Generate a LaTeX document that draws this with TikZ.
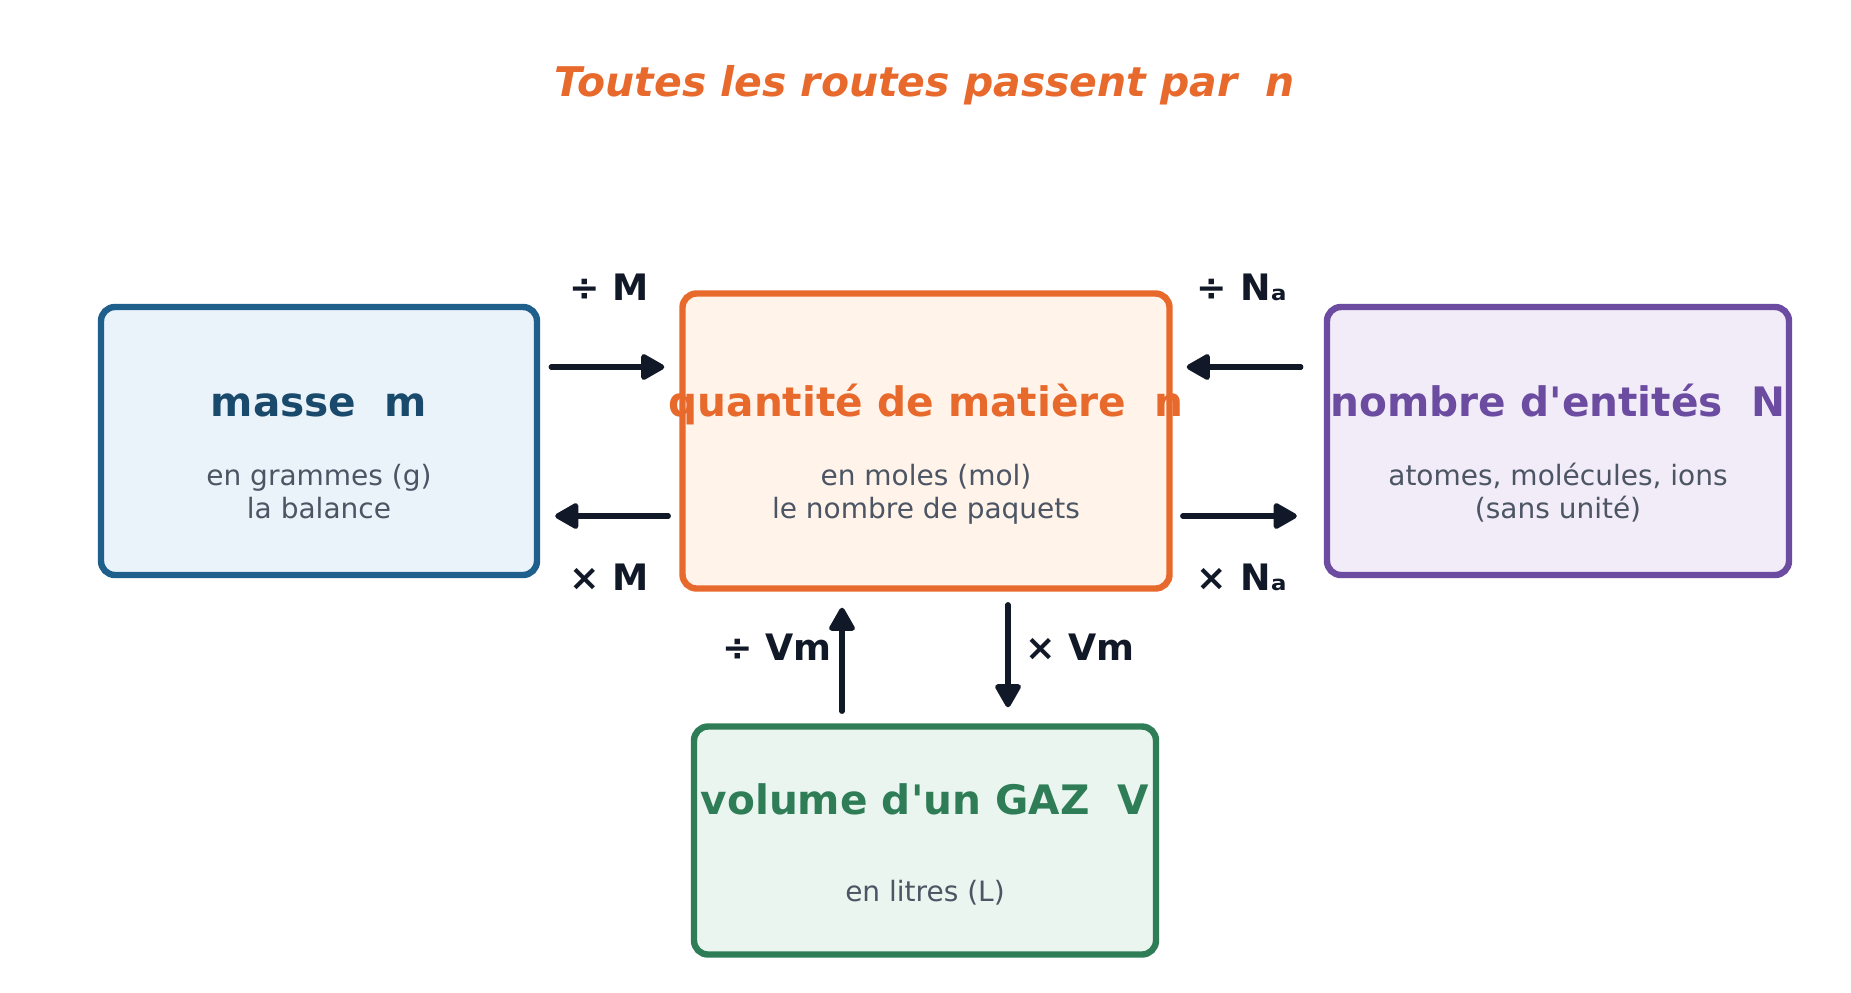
\documentclass[tikz,border=0pt]{standalone}
\usepackage{fontspec}
\setmainfont{DejaVu Sans}[Ligatures=TeXOff,BoldItalicFont={DejaVu Sans Bold Oblique},ItalicFont={DejaVu Sans Oblique}]
\usetikzlibrary{arrows.meta,calc}
\definecolor{ink}{HTML}{111827}
\definecolor{sub}{HTML}{4B5563}
\definecolor{oran}{HTML}{E8692C}
\definecolor{oranfill}{HTML}{FFF3EA}
\definecolor{blu}{HTML}{1F5F8B}
\definecolor{blutext}{HTML}{1A4A6B}
\definecolor{blufill}{HTML}{EBF3FA}
\definecolor{purp}{HTML}{6B4CA0}
\definecolor{purpfill}{HTML}{F2ECF8}
\definecolor{gre}{HTML}{2E7D57}
\definecolor{grefill}{HTML}{EAF5EF}
\tikzset{
  box/.style={draw, line width=3.2pt, rounded corners=7pt, inner sep=0pt},
  boxtitle/.style={font=\bfseries\fontsize{20.3}{24}\selectfont, anchor=base, inner sep=0pt},
  boxsub/.style={font=\fontsize{14}{16.5}\selectfont, text=sub, align=center, anchor=base, inner sep=0pt},
  oplabel/.style={font=\bfseries\fontsize{18.2}{22}\selectfont, text=ink, inner sep=0pt},
  arr/.style={draw=ink, line width=2.6pt, line cap=round, -{Triangle[length=13pt,width=14pt,round]}},
}
\begin{document}
\begin{tikzpicture}[x=0.5pt,y=-0.5pt]
\useasboundingbox (0,0) rectangle (1851,992);
\fill[white] (0,0) rectangle (1851,992);

\node[font=\bfseries\itshape\fontsize{20.45}{24}\selectfont, text=oran, anchor=base, inner sep=0pt] (title) at (925,96) {Toutes les routes passent par~~n};

\node[box, draw=blu, fill=blufill, minimum width=218pt, minimum height=134pt] (masse) at (319,441) {};
\node[box, draw=oran, fill=oranfill, minimum width=243.5pt, minimum height=147.5pt] (qte) at (926,441) {};
\node[box, draw=purp, fill=purpfill, minimum width=231pt, minimum height=134pt] (nomb) at (1558,441) {};
\node[box, draw=gre, fill=grefill, minimum width=231pt, minimum height=114pt] (vol) at (925,840.5) {};

\node[boxtitle, text=blutext] (masseT) at (319,416) {masse~~m};
\node[boxsub] (masseS) at (319,518) {en grammes (g)\\la balance};
\node[boxtitle, text=oran] (qteT) at (926,416) {quantité de matière~~n};
\node[boxsub] (qteS) at (926,518) {en moles (mol)\\le nombre de paquets};
\node[boxtitle, text=purp] (nombT) at (1558,416) {nombre d'entités~~N};
\node[boxsub] (nombS) at (1558,518) {atomes, molécules, ions\\(sans unité)};
\node[boxtitle, text=gre] (volT) at (925,814) {volume d'un GAZ~~V};
\node[boxsub] (volS) at (925,901) {en litres (L)};

\draw[arr, shorten <=5.5pt, shorten >=7.5pt] ([yshift=37pt]masse.east) -- ([yshift=37pt]qte.west);
\draw[arr, shorten <=5.5pt, shorten >=7.5pt] ([yshift=-37.5pt]qte.west) -- ([yshift=-37.5pt]masse.east);
\draw[arr, shorten <=11.5pt, shorten >=7pt] ([yshift=37pt]nomb.west) -- ([yshift=37pt]qte.east);
\draw[arr, shorten <=5pt, shorten >=13.5pt] ([yshift=-37.5pt]qte.east) -- ([yshift=-37.5pt]nomb.west);
\draw[arr, shorten <=6pt, shorten >=8pt] ([xshift=-41.5pt]vol.north) -- ([xshift=-41.5pt]vol.north |- qte.south);
\draw[arr, shorten <=6.5pt, shorten >=8pt] ([xshift=41.5pt]vol.north |- qte.south) -- ([xshift=41.5pt]vol.north);

\node[oplabel, anchor=base] (divM) at (609,300) {÷ M};
\node[oplabel, anchor=base] (mulM) at (609,590) {× M};
\node[oplabel, anchor=base] (divN) at (1242,300) {÷ Nₐ};
\node[oplabel, anchor=base] (mulN) at (1242,590) {× Nₐ};
\node[oplabel, anchor=base east] (divV) at (832,660) {÷ Vm};
\node[oplabel, anchor=base west] (mulV) at (1025,660) {× Vm};
\end{tikzpicture}
\end{document}
